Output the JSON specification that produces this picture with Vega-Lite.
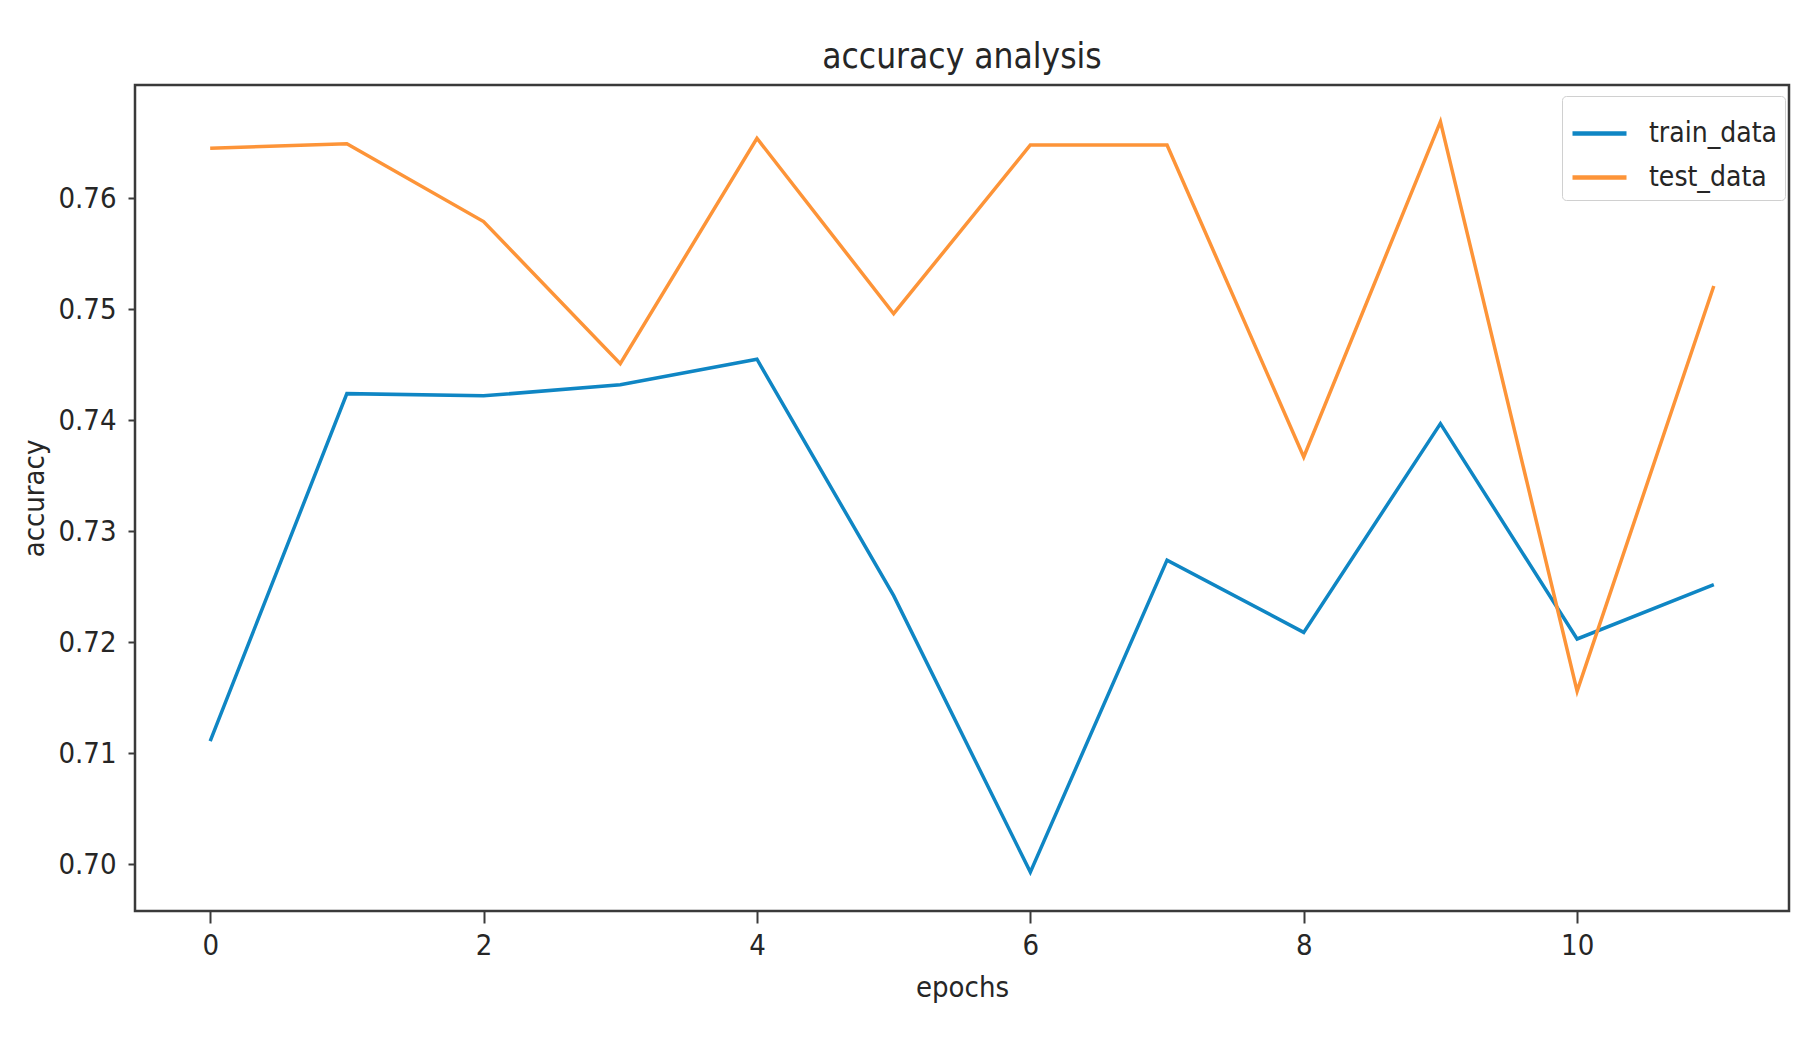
{
  "$schema": "https://vega.github.io/schema/vega-lite/v6.json",
  "width": 1654,
  "height": 826,
  "autosize": {"type": "none"},
  "padding": {"left": 135, "top": 85, "right": 31, "bottom": 132},
  "background": "white",
  "title": {
    "text": "accuracy analysis",
    "font": "DejaVu Sans Condensed, DejaVu Sans",
    "fontSize": 35,
    "fontWeight": "normal",
    "color": "#262626",
    "anchor": "middle",
    "offset": 10
  },
  "config": {
    "font": "DejaVu Sans Condensed, DejaVu Sans",
    "view": {"stroke": "#3a3a3a", "strokeWidth": 2.5},
    "axis": {
      "grid": false,
      "domain": false,
      "tickColor": "#3a3a3a",
      "tickWidth": 2,
      "labelFont": "DejaVu Sans Condensed, DejaVu Sans",
      "titleFont": "DejaVu Sans Condensed, DejaVu Sans",
      "labelFontSize": 29,
      "titleFontSize": 29,
      "labelColor": "#262626",
      "titleColor": "#262626",
      "titleFontWeight": "normal"
    }
  },
  "data": {
    "values": [
      {"epoch": 0, "series": "train_data", "accuracy": 0.7111},
      {"epoch": 1, "series": "train_data", "accuracy": 0.7424},
      {"epoch": 2, "series": "train_data", "accuracy": 0.7422},
      {"epoch": 3, "series": "train_data", "accuracy": 0.7432},
      {"epoch": 4, "series": "train_data", "accuracy": 0.7455},
      {"epoch": 5, "series": "train_data", "accuracy": 0.7242},
      {"epoch": 6, "series": "train_data", "accuracy": 0.6993},
      {"epoch": 7, "series": "train_data", "accuracy": 0.7274},
      {"epoch": 8, "series": "train_data", "accuracy": 0.7209},
      {"epoch": 9, "series": "train_data", "accuracy": 0.7397},
      {"epoch": 10, "series": "train_data", "accuracy": 0.7203},
      {"epoch": 11, "series": "train_data", "accuracy": 0.7252},
      {"epoch": 0, "series": "test_data", "accuracy": 0.7645},
      {"epoch": 1, "series": "test_data", "accuracy": 0.7649},
      {"epoch": 2, "series": "test_data", "accuracy": 0.7579},
      {"epoch": 3, "series": "test_data", "accuracy": 0.7451},
      {"epoch": 4, "series": "test_data", "accuracy": 0.7654},
      {"epoch": 5, "series": "test_data", "accuracy": 0.7496},
      {"epoch": 6, "series": "test_data", "accuracy": 0.7648},
      {"epoch": 7, "series": "test_data", "accuracy": 0.7648},
      {"epoch": 8, "series": "test_data", "accuracy": 0.7367},
      {"epoch": 9, "series": "test_data", "accuracy": 0.7669},
      {"epoch": 10, "series": "test_data", "accuracy": 0.7156},
      {"epoch": 11, "series": "test_data", "accuracy": 0.7521}
    ]
  },
  "mark": {"type": "line", "strokeWidth": 3.5, "strokeJoin": "miter", "strokeCap": "butt"},
  "encoding": {
    "x": {
      "field": "epoch",
      "type": "quantitative",
      "title": "epochs",
      "scale": {"domain": [-0.55, 11.55], "nice": false, "zero": false},
      "axis": {"values": [0, 2, 4, 6, 8, 10], "tickSize": 12, "labelPadding": 8, "titlePadding": 13, "labelFlush": false}
    },
    "y": {
      "field": "accuracy",
      "type": "quantitative",
      "title": "accuracy",
      "scale": {"domain": [0.6958, 0.7702], "nice": false, "zero": false},
      "axis": {"values": [0.70, 0.71, 0.72, 0.73, 0.74, 0.75, 0.76], "format": ".2f", "tickSize": 7, "labelPadding": 12, "titlePadding": 8, "labelFlush": false}
    },
    "color": {
      "field": "series",
      "type": "nominal",
      "scale": {"domain": ["train_data", "test_data"], "range": ["#0f86c4", "#fd9438"]},
      "legend": {
        "title": null,
        "orient": "none",
        "legendX": 1427,
        "legendY": 11,
        "symbolType": "stroke",
        "symbolSize": 2916,
        "symbolStrokeWidth": 4.5,
        "labelFontSize": 28,
        "labelFont": "DejaVu Sans Condensed, DejaVu Sans",
        "labelColor": "#262626",
        "labelOffset": 20,
        "rowPadding": -6,
        "padding": 8,
        "fillColor": "rgba(255,255,255,0.8)",
        "strokeColor": "#d0d0d0",
        "cornerRadius": 4
      }
    }
  }
}
